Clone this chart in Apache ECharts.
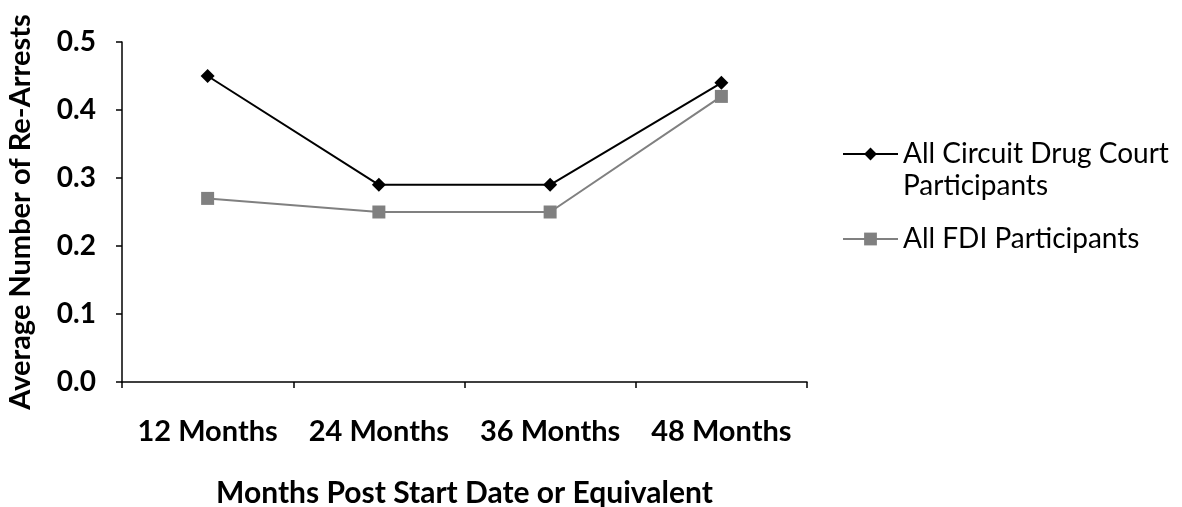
<!DOCTYPE html>
<html><head><meta charset="utf-8">
<script src="https://cdn.jsdelivr.net/npm/echarts@6/dist/echarts.min.js"></script>
<style>html,body{margin:0;padding:0;background:#fff}#c{width:1182px;height:507px}</style>
</head><body><div id="c"></div>
<script>
const categories = ['12 Months', '24 Months', '36 Months', '48 Months'];
const circuitValues = [0.45, 0.29, 0.29, 0.44];
const fdiValues = [0.27, 0.25, 0.25, 0.42];
const yTicks = ['0.0', '0.1', '0.2', '0.3', '0.4', '0.5'];
const seriesNames = ['All Circuit Drug Court Participants', 'All FDI Participants'];
const legendLabels = {'All Circuit Drug Court Participants': ' \nAll Circuit Drug Court\nParticipants', 'All FDI Participants': 'All FDI Participants'};

const FONT = 'Lato';
const LH = 32;
const chart = echarts.init(document.getElementById('c'), null, {renderer: 'canvas'});
chart.setOption({
  animation: false,
  backgroundColor: '#fff',
  grid: {left: 122, right: 375, top: 42, bottom: 125, containLabel: false, outerBoundsMode: 'none'},
  legend: {
    orient: 'vertical', left: 837, top: 101, itemWidth: 55, itemHeight: 16, itemGap: 21,
    data: seriesNames,
    formatter: n => legendLabels[n],
    textStyle: {fontFamily: FONT, fontSize: 28, color: '#000', lineHeight: LH}
  },
  xAxis: {
    type: 'category', data: categories, boundaryGap: true,
    name: 'Months Post Start Date or Equivalent', nameLocation: 'middle', nameGap: 96,
    nameTextStyle: {fontFamily: FONT, fontWeight: 'bold', fontSize: 30, color: '#000'},
    axisLine: {lineStyle: {color: '#000', width: 1.5}},
    axisTick: {show: true, length: 6, interval: 0, lineStyle: {color: '#000', width: 1.5}},
    axisLabel: {margin: 35, fontFamily: FONT, fontWeight: 'bold', fontSize: 29, color: '#000', interval: 0},
    splitLine: {show: false}
  },
  yAxis: {
    type: 'value', min: 0, max: 0.5, interval: 0.1,
    name: 'Average Number of Re-Arrests', nameLocation: 'middle', nameGap: 87,
    nameTextStyle: {fontFamily: FONT, fontWeight: 'bold', fontSize: 29, color: '#000'},
    axisLine: {show: true, lineStyle: {color: '#000', width: 1.5}},
    axisTick: {show: true, length: 6, inside: false, lineStyle: {color: '#000', width: 1.5}},
    axisLabel: {margin: 26, fontFamily: FONT, fontWeight: 'bold', fontSize: 28, color: '#000',
      formatter: v => yTicks[Math.round(v * 10)]},
    splitLine: {show: false}
  },
  series: [
    {name: seriesNames[0], type: 'line', data: circuitValues, symbol: 'diamond', symbolSize: 14,
     itemStyle: {color: '#000'}, lineStyle: {color: '#000', width: 2}},
    {name: seriesNames[1], type: 'line', data: fdiValues, symbol: 'rect', symbolSize: 13,
     itemStyle: {color: '#808080'}, lineStyle: {color: '#808080', width: 2}}
  ]
});
</script></body></html>
